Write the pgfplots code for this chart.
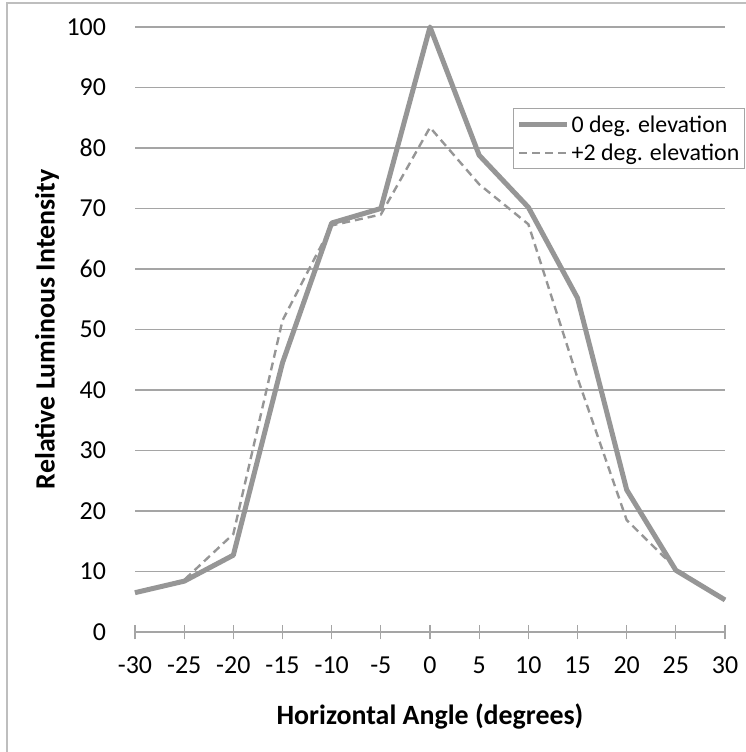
\documentclass[border=0pt]{standalone}
\usepackage{pgfplots}
\pgfplotsset{compat=1.18}
\usepackage{fontspec}
\setmainfont{Carlito}
\definecolor{linegray}{RGB}{150,150,150}
\definecolor{gridgray}{RGB}{165,165,165}
\definecolor{framegray}{RGB}{190,190,190}
\newcommand{\tickf}{\fontsize{26}{30}\selectfont}
\newcommand{\labf}{\fontsize{28}{32}\selectfont}
\begin{document}
\begin{tikzpicture}[x=1bp,y=1bp]
\useasboundingbox (0,0) rectangle (746,752);
\draw[framegray,line width=1.2bp] (7,0) -- (7,749) -- (746,749);
\begin{axis}[
  at={(135bp,120bp)}, anchor=south west,
  scale only axis, width=590bp, height=605bp,
  xmin=-30, xmax=30, ymin=0, ymax=100,
  xtick={-30,-25,...,30}, ytick={0,10,...,100},
  axis line style={draw=none},
  axis x line*=bottom, axis y line*=left,
  x axis line style={draw=gridgray, line width=1.2bp},
  ymajorgrids, grid style={gridgray, line width=1.2bp},
  ytick style={draw=none},
  xtick style={draw=gridgray, line width=1.2bp},
  tick align=center, major tick length=15bp,
  /pgf/number format/assume math mode=true,
  tick label style={font=\tickf},
  yticklabel style={anchor=east, xshift=-18bp},
  xticklabel style={yshift=-14bp},
  xlabel={\labf\bfseries Horizontal Angle (degrees)},
  ylabel={\labf\bfseries Relative Luminous Intensity},
  xlabel style={at={(axis description cs:0.5,0)}, anchor=center, yshift=-85bp},
  ylabel style={at={(axis description cs:-0.149,0.5)}, anchor=center},
  legend style={at={(axis description cs:0.6407,0.866)}, anchor=north west,
    draw=gridgray, line width=1.2bp, font=\fontsize{24}{28}\selectfont,
    inner xsep=3bp, inner ysep=5bp, row sep=6bp, legend cell align=left},
  legend image code/.code={\draw[#1] (0bp,0bp) -- (48bp,0bp);},
  clip=false,
]
\addplot[linegray, line width=5bp, line join=round] coordinates {
(-30,6.5) (-25,8.4) (-20,12.7) (-15,44.5) (-10,67.6) (-5,70) (0,100)
(5,78.8) (10,70.2) (15,55.2) (20,23.5) (25,10.2) (30,5.3)};
\addlegendentry{0 deg. elevation}
\addplot[linegray, line width=2.4bp, dash pattern=on 8bp off 5bp] coordinates {
(-30,6.5) (-25,8.6) (-20,16.2) (-15,51.5) (-10,67.2) (-5,69) (0,83.4)
(5,74) (10,67.4) (15,42) (20,18.5) (25,10.5) (30,5.3)};
\addlegendentry{+2 deg. elevation}
\end{axis}
\end{tikzpicture}
\end{document}
